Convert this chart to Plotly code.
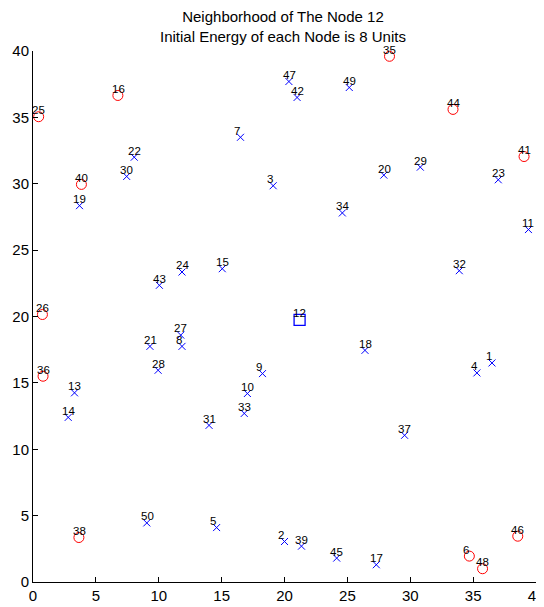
import plotly.graph_objects as go

node_ids = list(range(1, 51))
node_x = [36.5, 20.0, 19.1, 35.3, 14.6, 34.7, 16.5, 11.85, 18.25, 17.05,
          39.4, 21.2, 3.3, 2.8, 15.05, 6.75, 27.3, 26.4, 3.7, 27.9,
          9.3, 8.05, 37.0, 11.85, 0.45, 0.75, 11.75, 9.95, 30.8, 7.45,
          14.0, 33.9, 16.8, 24.6, 28.35, 0.8, 29.55, 3.65, 21.35, 3.85,
          39.05, 21.0, 10.05, 33.4, 24.15, 38.55, 20.35, 35.75, 25.15, 9.05]
node_y = [16.5, 3.05, 29.85, 15.75, 4.1, 1.95, 33.5, 17.75, 15.7, 14.2,
          26.55, 19.75, 14.25, 12.4, 23.6, 36.65, 1.3, 17.45, 28.35, 30.65,
          17.75, 32.0, 30.3, 23.35, 35.05, 20.15, 18.6, 15.95, 31.25, 30.55,
          11.8, 23.45, 12.7, 27.8, 39.6, 15.5, 11.05, 3.35, 2.7, 29.95,
          32.05, 36.5, 22.35, 35.6, 1.8, 3.45, 37.7, 1.0, 37.25, 4.45]
circle_nodes = [6, 16, 25, 26, 35, 36, 38, 40, 41, 44, 46, 48]
center_node = 12

x_ticks = [0, 5, 10, 15, 20, 25, 30, 35, 40]
y_ticks = [0, 5, 10, 15, 20, 25, 30, 35, 40]
title_lines = ["Neighborhood of The Node 12", "Initial Energy of each Node is 8 Units"]

FONT = "Liberation Sans, Arial, Helvetica, sans-serif"

cx = [x for i, x in zip(node_ids, node_x) if i in circle_nodes]
cy = [y for i, y in zip(node_ids, node_y) if i in circle_nodes]
bx = [x for i, x in zip(node_ids, node_x) if i not in circle_nodes and i != center_node]
by = [y for i, y in zip(node_ids, node_y) if i not in circle_nodes and i != center_node]
sx = [node_x[node_ids.index(center_node)]]
sy = [node_y[node_ids.index(center_node)]]

fig = go.Figure()
fig.add_trace(go.Scatter(x=bx, y=by, mode="markers", cliponaxis=False,
                         marker=dict(symbol="x-thin-open", size=7, color="blue",
                                     line=dict(color="blue", width=1)),
                         hoverinfo="skip"))
fig.add_trace(go.Scatter(x=cx, y=cy, mode="markers", cliponaxis=False,
                         marker=dict(symbol="circle-open", size=10, color="red",
                                     line=dict(color="red", width=1)),
                         hoverinfo="skip"))
fig.add_trace(go.Scatter(x=sx, y=sy, mode="markers", cliponaxis=False,
                         marker=dict(symbol="square-open", size=11, color="blue",
                                     line=dict(color="blue", width=1.3)),
                         hoverinfo="skip"))

# label offset of about (-0.5, +0.5) data units, given as pixel shifts
for i, x, y in zip(node_ids, node_x, node_y):
    fig.add_annotation(x=x, y=y, xref="x", yref="y", text=str(i),
                       showarrow=False, xanchor="left", yanchor="middle",
                       borderpad=0, xshift=-7.3, yshift=6.6,
                       font=dict(family=FONT, size=11.5, color="black"))

fig.update_layout(
    width=536, height=599,
    template="none",
    showlegend=False,
    paper_bgcolor="white", plot_bgcolor="white",
    margin=dict(l=24.5, r=8, t=42.7, b=25.3, pad=0),
    title=dict(text="<br>".join(title_lines), x=0.513, xanchor="center",
               y=0.976, yanchor="middle",
               font=dict(family=FONT, size=15, color="black")),
    font=dict(family=FONT, size=15, color="black"),
)
fig.update_xaxes(range=[0, 40], tickvals=x_ticks, ticktext=[str(v) for v in x_ticks],
                 showgrid=False, zeroline=False, showline=True, linecolor="black",
                 linewidth=1, ticks="inside", ticklen=5, tickcolor="black",
                 tickfont=dict(family=FONT, size=15, color="black"),
                 ticklabeloverflow="allow",
                 automargin=False, mirror=False)
fig.update_yaxes(range=[0, 40], tickvals=y_ticks, ticktext=[str(v) for v in y_ticks],
                 showgrid=False, zeroline=False, showline=True, linecolor="black",
                 linewidth=1, ticks="inside", ticklen=5, tickcolor="black",
                 tickfont=dict(family=FONT, size=15, color="black"),
                 ticklabeloverflow="allow",
                 automargin=False, mirror=False)

fig.write_html("out.html")
